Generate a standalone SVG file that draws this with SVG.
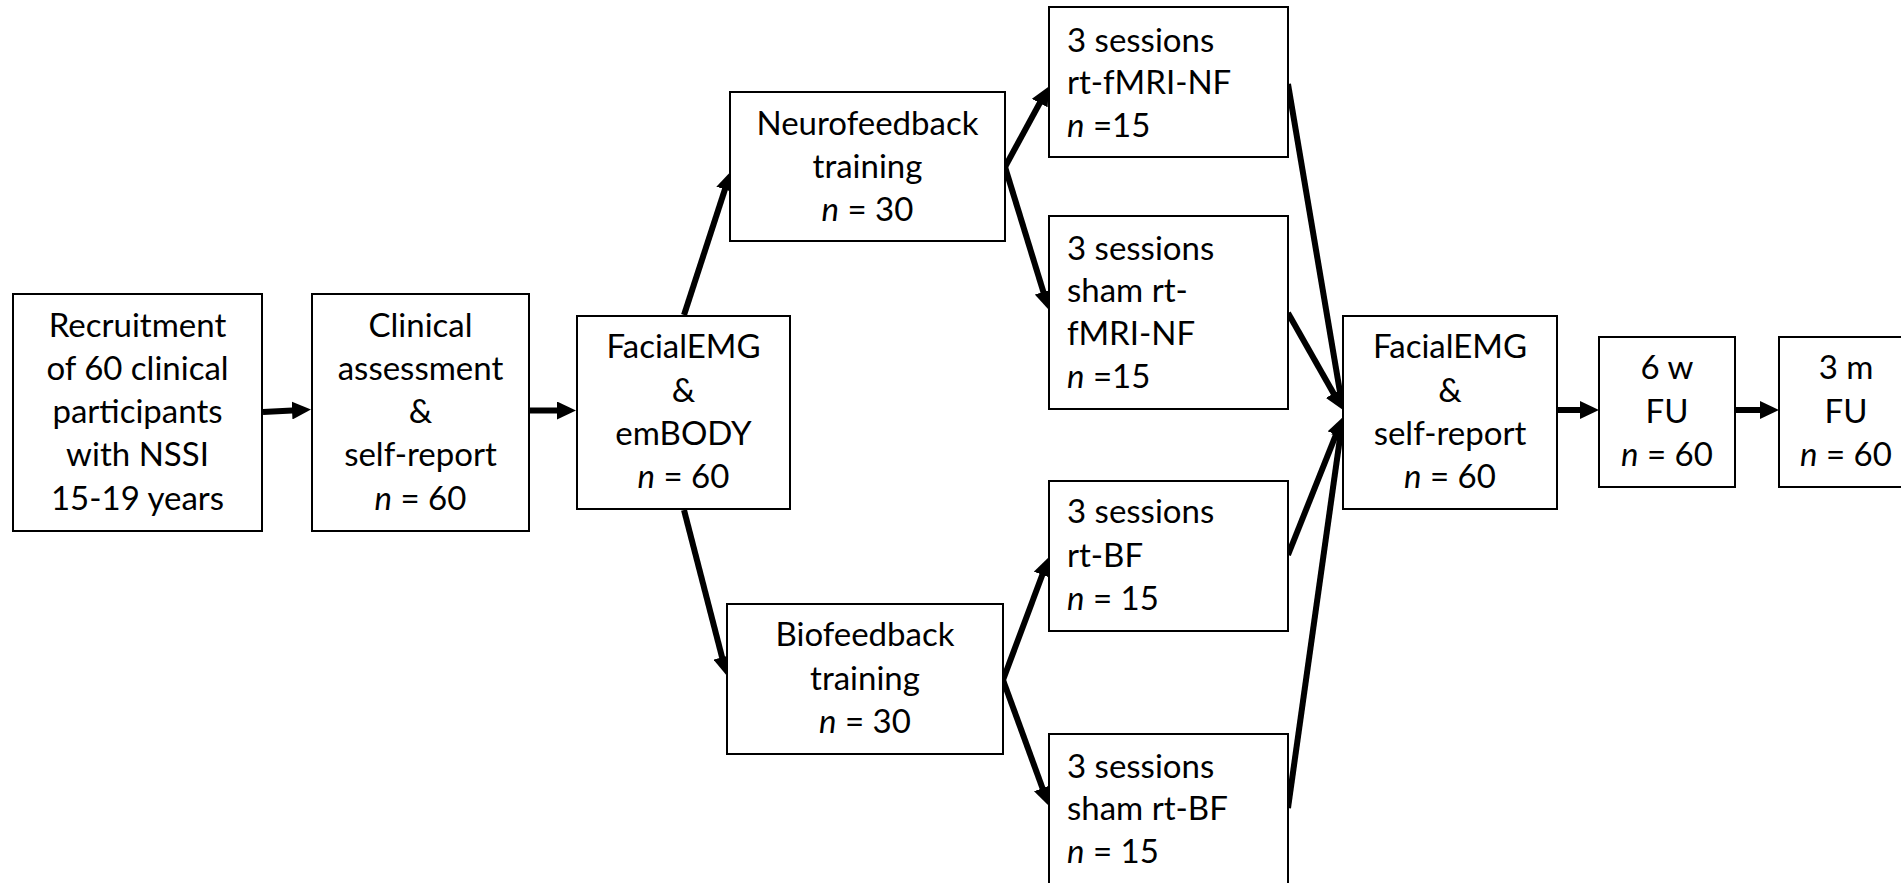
<svg xmlns="http://www.w3.org/2000/svg" width="1901" height="883" viewBox="0 0 1901 883">
<style>
.box{fill:#fff;stroke:#000;stroke-width:2}
.t{font-family:Lato,"Liberation Sans",sans-serif;font-size:33px;fill:#000}
.c{text-anchor:middle}
.i{font-style:italic}
.ln{stroke:#000;stroke-width:6;fill:none;marker-end:url(#ah)}
</style>
<defs>
<marker id="ah" markerUnits="userSpaceOnUse" markerWidth="19" markerHeight="18" refX="10" refY="9" orient="auto">
<path d="M0,0 L19,9 L0,18 z" fill="#000"/>
</marker>
</defs>
<rect width="1901" height="883" fill="#fff"/>
<g id="connectors">
<line class="ln" x1="263" y1="412" x2="302" y2="410"/>
<line class="ln" x1="530" y1="410.5" x2="567" y2="410.5"/>
<line class="ln" x1="684" y1="315" x2="728" y2="180"/>
<line class="ln" x1="684" y1="510" x2="724.6" y2="667"/>
<line class="ln" x1="1005" y1="167" x2="1044.5" y2="94.3"/>
<line class="ln" x1="1005" y1="167" x2="1046.3" y2="301.4"/>
<line class="ln" x1="1003" y1="680" x2="1045.8" y2="565.5"/>
<line class="ln" x1="1003" y1="680" x2="1045.9" y2="797.5"/>
<line class="ln" x1="1288" y1="84" x2="1341.5" y2="401"/>
<line class="ln" x1="1288" y1="313" x2="1338.6" y2="402.2"/>
<line class="ln" x1="1288" y1="555" x2="1339.7" y2="425.3"/>
<line class="ln" x1="1288" y1="808" x2="1341.7" y2="425.9"/>
<line class="ln" x1="1557" y1="410" x2="1590" y2="410"/>
<line class="ln" x1="1735" y1="410" x2="1770" y2="410"/>
</g>
<g id="recruitment">
<rect class="box" x="13" y="294" width="249" height="237"/>
<text class="t c" x="137.5" y="337">Recruitment</text>
<text class="t c" x="137.5" y="380">of 60 clinical</text>
<text class="t c" x="137.5" y="423">participants</text>
<text class="t c" x="137.5" y="466">with NSSI</text>
<text class="t c" x="137.5" y="510">15-19 years</text>
</g>
<g id="clinical">
<rect class="box" x="312" y="294" width="217" height="237"/>
<text class="t c" x="420.5" y="337">Clinical</text>
<text class="t c" x="420.5" y="380">assessment</text>
<text class="t c" x="420.5" y="423">&amp;</text>
<text class="t c" x="420.5" y="466">self-report</text>
<text class="t c" x="420.5" y="510"><tspan class="i">n</tspan> = 60</text>
</g>
<g id="facialemg1">
<rect class="box" x="577" y="316" width="213" height="193"/>
<text class="t c" x="683.5" y="358">FacialEMG</text>
<text class="t c" x="683.5" y="402">&amp;</text>
<text class="t c" x="683.5" y="445">emBODY</text>
<text class="t c" x="683.5" y="488"><tspan class="i">n</tspan> = 60</text>
</g>
<g id="neurofeedback">
<rect class="box" x="730" y="92" width="275" height="149"/>
<text class="t c" x="867.5" y="135">Neurofeedback</text>
<text class="t c" x="867.5" y="178">training</text>
<text class="t c" x="867.5" y="221"><tspan class="i">n</tspan> = 30</text>
</g>
<g id="biofeedback">
<rect class="box" x="727" y="604" width="276" height="150"/>
<text class="t c" x="865" y="646">Biofeedback</text>
<text class="t c" x="865" y="690">training</text>
<text class="t c" x="865" y="733"><tspan class="i">n</tspan> = 30</text>
</g>
<g id="rt-fmri-nf">
<rect class="box" x="1049" y="7" width="239" height="150"/>
<text class="t" x="1067" y="52">3 sessions</text>
<text class="t" x="1067" y="94">rt-fMRI-NF</text>
<text class="t" x="1067" y="137"><tspan class="i">n</tspan> =15</text>
</g>
<g id="sham-rt-fmri-nf">
<rect class="box" x="1049" y="216" width="239" height="193"/>
<text class="t" x="1067" y="260">3 sessions</text>
<text class="t" x="1067" y="302">sham rt-</text>
<text class="t" x="1067" y="345">fMRI-NF</text>
<text class="t" x="1067" y="388"><tspan class="i">n</tspan> =15</text>
</g>
<g id="rt-bf">
<rect class="box" x="1049" y="481" width="239" height="150"/>
<text class="t" x="1067" y="523">3 sessions</text>
<text class="t" x="1067" y="567">rt-BF</text>
<text class="t" x="1067" y="610"><tspan class="i">n</tspan> = 15</text>
</g>
<g id="sham-rt-bf">
<rect class="box" x="1049" y="734" width="239" height="152"/>
<text class="t" x="1067" y="778">3 sessions</text>
<text class="t" x="1067" y="820">sham rt-BF</text>
<text class="t" x="1067" y="863"><tspan class="i">n</tspan> = 15</text>
</g>
<g id="facialemg2">
<rect class="box" x="1343" y="316" width="214" height="193"/>
<text class="t c" x="1450" y="358">FacialEMG</text>
<text class="t c" x="1450" y="402">&amp;</text>
<text class="t c" x="1450" y="445">self-report</text>
<text class="t c" x="1450" y="488"><tspan class="i">n</tspan> = 60</text>
</g>
<g id="fu6w">
<rect class="box" x="1599" y="337" width="136" height="150"/>
<text class="t c" x="1667" y="379">6 w</text>
<text class="t c" x="1667" y="423">FU</text>
<text class="t c" x="1667" y="466"><tspan class="i">n</tspan> = 60</text>
</g>
<g id="fu3m">
<rect class="box" x="1779" y="337" width="135" height="150"/>
<text class="t c" x="1846" y="379">3 m</text>
<text class="t c" x="1846" y="423">FU</text>
<text class="t c" x="1846" y="466"><tspan class="i">n</tspan> = 60</text>
</g>
</svg>
